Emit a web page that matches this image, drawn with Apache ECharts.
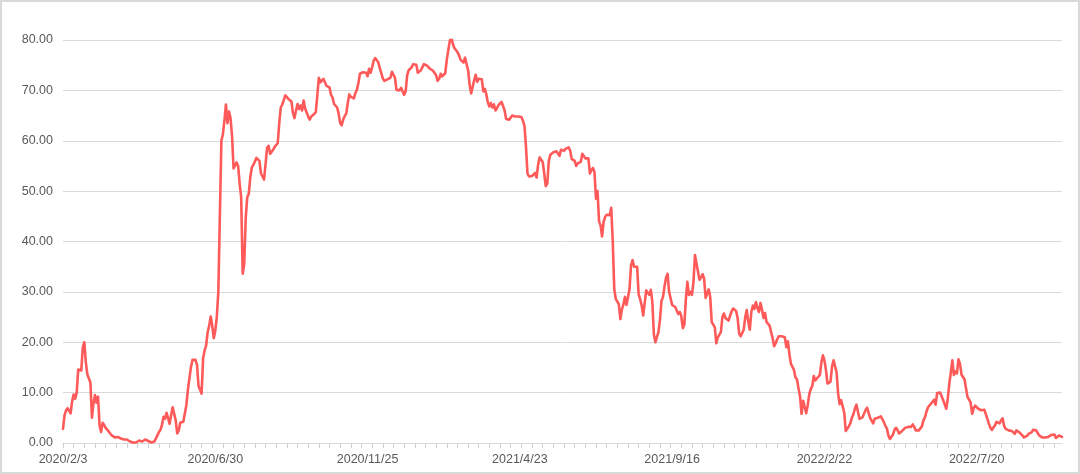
<!DOCTYPE html>
<html>
<head>
<meta charset="utf-8">
<script src="https://cdn.jsdelivr.net/npm/echarts@6/dist/echarts.min.js"></script>
<style>
html,body{margin:0;padding:0;background:#fff;}
#wrap{position:relative;width:1080px;height:474px;}
#chart{position:absolute;left:0;top:0;width:1080px;height:474px;}
#frame{position:absolute;left:0;top:0;width:1080px;height:474px;box-sizing:border-box;border:2px solid #d9d9d9;pointer-events:none;}
</style>
</head>
<body>
<div id="wrap"><div id="chart"></div><div id="frame"></div></div>
<script>
// Trading-day calendar (weekdays excluding exchange holidays)
const startDate = '2020-02-03';
const holidays = [
 '2020-04-06','2020-05-01','2020-05-04','2020-05-05','2020-06-25','2020-06-26',
 '2020-10-01','2020-10-02','2020-10-05','2020-10-06','2020-10-07','2020-10-08',
 '2021-01-01','2021-02-11','2021-02-12','2021-02-15','2021-02-16','2021-02-17',
 '2021-04-05','2021-05-03','2021-05-04','2021-05-05','2021-06-14','2021-09-20','2021-09-21',
 '2021-10-01','2021-10-04','2021-10-05','2021-10-06','2021-10-07',
 '2022-01-03','2022-01-31','2022-02-01','2022-02-02','2022-02-03','2022-02-04',
 '2022-04-04','2022-04-05','2022-05-02','2022-05-03','2022-05-04','2022-06-03',
 '2022-09-12','2022-10-03','2022-10-04','2022-10-05','2022-10-06','2022-10-07'
];

const values = [
2.8,5.5,6.5,6.9,7.1,5.9,8.3,9.6,8.8,10.0,
14.6,14.3,14.4,19.0,20.0,16.0,13.6,12.8,12.0,5.0,
7.8,9.5,8.0,9.2,3.5,2.2,4.0,3.6,3.0,3.3,
2.3,1.9,1.5,1.3,1.1,0.8,1.2,1.0,0.9,0.7,
0.7,0.8,0.7,0.8,0.3,0.2,0.1,0.1,0.1,0.3,
0.5,0.3,0.3,0.5,0.7,0.6,0.4,0.1,0.1,0.2,
0.3,0.4,1.5,2.2,2.6,3.6,5.2,4.8,6.0,5.0,
3.8,5.5,7.1,5.8,4.5,1.9,2.5,4.0,4.2,4.2,
4.5,7.5,10.5,12.8,15.0,16.5,16.4,16.5,15.5,11.3,
11.0,9.8,16.8,18.4,19.4,22.0,23.3,25.1,23.3,20.8,
22.3,25.0,30.0,45.0,60.0,61.3,64.0,67.2,63.5,65.8,
64.5,61.0,54.5,54.7,55.7,55.0,51.5,48.8,33.6,35.5,
44.8,48.8,49.5,52.8,54.7,55.2,55.9,56.6,56.6,56.0,
53.5,53.4,52.3,55.3,58.6,59.0,57.4,57.5,58.2,58.8,
58.9,59.5,63.5,66.6,67.2,67.5,69.0,69.3,68.3,68.0,
67.8,65.5,64.5,66.0,67.3,66.3,67.0,66.0,68.0,66.4,
65.6,64.8,64.2,64.8,65.1,65.3,65.7,69.0,72.5,71.6,
71.9,72.3,72.0,70.9,70.7,70.6,69.1,68.6,67.3,67.1,
66.6,65.4,63.5,63.1,64.2,64.9,65.4,67.5,69.2,68.7,
68.5,68.4,69.5,70.1,71.5,73.3,73.6,73.6,73.8,73.5,
72.8,74.3,73.5,74.6,75.9,76.4,76.2,75.6,74.4,73.4,
72.4,71.9,71.7,72.2,72.1,72.5,73.7,73.9,72.5,70.1,
70.3,70.0,70.5,69.8,69.1,69.8,73.0,74.0,74.2,74.6,
75.2,74.9,75.1,73.5,73.4,74.0,73.7,75.2,75.2,74.9,
74.6,74.3,74.0,73.9,73.7,73.0,71.9,72.3,73.3,72.8,
72.7,73.4,76.0,78.0,79.8,80.6,79.2,78.4,78.0,77.6,
77.0,76.1,76.2,75.5,76.5,76.5,74.0,71.2,69.4,69.6,
72.0,73.1,71.7,72.3,72.1,72.2,69.8,70.3,69.2,67.6,
66.8,67.5,66.6,67.2,66.0,66.5,67.1,67.4,67.7,67.7,
66.0,64.3,64.0,64.2,64.1,65.0,65.1,64.8,64.9,64.8,
64.6,64.7,64.0,63.0,59.0,53.5,52.9,52.9,53.0,52.8,
53.6,52.7,55.3,56.7,56.7,55.8,53.5,51.0,51.5,56.0,
57.2,57.5,57.7,57.5,57.9,57.6,57.0,58.2,58.4,58.0,
58.4,58.6,58.7,58.1,56.4,56.1,56.0,55.0,55.5,55.7,
55.8,57.4,57.7,56.5,56.5,56.5,53.5,54.2,54.6,53.8,
48.5,50.0,44.0,43.2,41.0,43.9,44.9,45.3,45.5,45.2,
46.7,40.0,30.5,28.6,28.6,27.5,24.6,26.5,27.5,29.0,
27.4,27.5,30.5,35.2,36.3,35.0,35.2,35.0,29.5,28.5,
27.3,25.3,27.8,30.3,30.5,29.4,30.4,28.0,21.6,20.0,
21.0,22.0,24.5,28.2,29.0,31.1,32.8,33.6,30.0,30.0,
27.4,27.2,27.0,26.7,25.6,26.0,25.2,22.8,23.5,28.5,
32.0,29.4,30.0,29.4,32.0,37.3,35.6,35.6,32.4,32.9,
33.5,32.6,28.8,28.5,30.5,29.0,24.0,24.3,23.0,19.8,
21.0,21.3,22.0,25.0,25.7,24.8,24.6,24.3,24.5,26.1,
26.7,26.9,26.2,24.8,21.7,21.2,21.4,22.5,25.0,26.4,
24.0,22.5,26.0,27.3,26.6,28.0,26.8,26.0,27.8,26.5,
24.8,25.8,24.0,23.8,23.3,22.0,20.8,19.2,19.8,20.6,
21.2,21.2,21.2,21.4,21.0,19.0,20.2,17.6,15.7,15.6,
14.5,13.0,12.6,10.8,9.2,5.8,8.4,7.2,5.9,7.5,
9.6,10.7,11.3,13.3,12.4,12.8,12.8,13.5,16.0,17.4,
16.4,14.5,11.8,11.8,12.2,15.2,16.4,16.5,14.0,9.8,
7.7,8.5,8.5,6.0,2.4,2.2,3.3,3.9,5.0,5.7,
6.8,7.6,6.2,4.8,4.7,5.1,5.8,6.5,7.0,6.0,
5.0,5.2,3.9,4.8,4.9,5.0,5.2,5.3,5.5,4.2,
3.4,2.9,1.5,0.8,1.0,1.7,2.6,3.0,2.6,1.9,
1.9,2.4,2.6,3.0,3.0,3.2,3.2,3.2,3.7,3.2,
2.5,2.7,2.5,2.8,3.3,4.5,5.1,6.2,7.1,6.8,
7.8,7.8,8.6,7.6,9.9,10.0,10.0,9.8,8.5,7.7,
6.8,8.8,11.8,14.0,16.4,13.5,14.2,13.8,16.6,15.7,
13.6,13.1,12.6,10.8,9.1,8.6,8.0,5.8,6.9,7.4,
7.7,6.8,6.8,6.5,6.5,6.6,6.8,4.8,3.8,3.0,
2.6,3.1,3.5,4.2,4.4,3.9,4.5,4.9,3.4,2.8,
2.8,2.5,2.3,2.4,2.5,1.8,2.5,2.4,2.1,1.8,
1.5,1.1,1.2,1.4,1.8,1.9,2.1,2.6,2.8,2.5,
2.0,1.5,1.2,1.1,1.1,1.1,1.2,1.2,1.4,1.6,
1.8,1.7,1.0,1.1,1.5,1.2,1.2
];

const yTicks = [0, 10, 20, 30, 40, 50, 60, 70, 80];
const labelEvery = 100;  // x label every 100 trading days
const tickEvery = 7;     // minor tick every 7 trading days

function buildCategories(n) {
  const hol = new Set(holidays);
  const out = [];
  const d = new Date(startDate + 'T00:00:00Z');
  while (out.length < n) {
    const wd = d.getUTCDay();
    const iso = d.toISOString().slice(0, 10);
    if (wd !== 0 && wd !== 6 && !hol.has(iso)) {
      out.push(d.getUTCFullYear() + '/' + (d.getUTCMonth() + 1) + '/' + d.getUTCDate());
    }
    d.setUTCDate(d.getUTCDate() + 1);
  }
  return out;
}
const categories = buildCategories(values.length);

const chart = echarts.init(document.getElementById('chart'), null, {renderer: 'canvas'});
chart.setOption({
  animation: false,
  backgroundColor: '#ffffff',
  grid: {left: 63, right: 18, top: 40, bottom: 31, containLabel: false},
  xAxis: {
    type: 'category',
    data: categories,
    boundaryGap: false,
    axisLine: {show: true, lineStyle: {color: '#d9d9d9', width: 1}},
    axisTick: {show: true, interval: (i) => i % tickEvery === 0, length: 5, lineStyle: {color: '#d0d0d0'}},
    axisLabel: {
      interval: (i) => i % labelEvery === 0,
      color: '#595959', fontSize: 12.5, fontFamily: 'Liberation Sans, Arial, sans-serif', margin: 10
    },
    splitLine: {show: false}
  },
  yAxis: {
    type: 'value',
    min: yTicks[0], max: yTicks[yTicks.length - 1], interval: 10,
    axisLine: {show: false},
    axisTick: {show: false},
    axisLabel: {
      color: '#595959', fontSize: 12.5, fontFamily: 'Liberation Sans, Arial, sans-serif', margin: 10,
      formatter: v => v.toFixed(2)
    },
    splitLine: {show: true, lineStyle: {color: '#d9d9d9', width: 1}}
  },
  series: [{
    type: 'line',
    data: values,
    showSymbol: false,
    symbol: 'none',
    smooth: false,
    lineStyle: {color: '#ff5a5a', width: 2.6, join: 'round', cap: 'round'},
    itemStyle: {color: '#ff5a5a'}
  }]
});
</script>
</body>
</html>
